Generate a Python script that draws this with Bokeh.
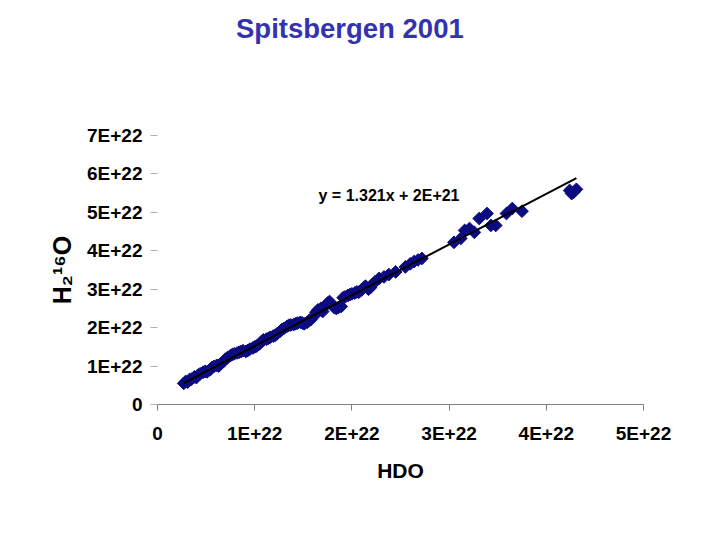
import numpy as np
from bokeh.plotting import figure
from bokeh.models import Range1d, FixedTicker, Label, Div
from bokeh.layouts import column
from bokeh.embed import file_html
from bokeh.resources import INLINE

# ---- data (units of 1E+22 molecules) ----
hdo_e22 = [0.27, 0.29, 0.31, 0.33, 0.35, 0.38, 0.40, 0.42, 0.44, 0.47,
           0.49, 0.51, 0.54, 0.56, 0.58, 0.61, 0.63, 0.65, 0.68, 0.70,
           0.72, 0.75, 0.77, 0.79, 0.82, 0.84, 0.86, 0.88, 0.91, 0.93,
           0.95, 0.98, 1.00, 1.02, 1.05, 1.07, 1.09, 1.12, 1.14, 1.16,
           1.19, 1.21, 1.23, 1.26, 1.28, 1.30, 1.33, 1.35, 1.37, 1.40,
           1.42, 1.44, 1.47, 1.49, 1.51, 1.54, 1.56, 1.58, 1.61, 1.63,
           1.65, 1.68, 1.70, 1.72, 1.75, 1.77, 1.79, 1.82, 1.84, 1.86,
           1.89, 1.91, 1.93, 1.96, 1.98, 2.00, 2.03, 2.05, 2.07, 2.10,
           2.12, 2.14, 2.17, 2.19, 2.21, 2.24, 2.28, 2.33, 2.38, 2.45,
           2.55, 2.60, 2.64, 2.68, 2.72,
           3.05, 3.12, 3.16, 3.21, 3.26, 3.31, 3.39, 3.43, 3.48, 3.59,
           3.65, 3.75, 4.24, 4.26, 4.28, 4.31]
h2o_e22 = [0.55, 0.60, 0.58, 0.65, 0.66, 0.72, 0.70, 0.77, 0.80, 0.84,
           0.86, 0.85, 0.90, 0.96, 0.99, 1.02, 1.00, 1.06, 1.12, 1.18,
           1.22, 1.27, 1.30, 1.32, 1.34, 1.36, 1.38, 1.40, 1.38, 1.41,
           1.44, 1.47, 1.50, 1.52, 1.58, 1.64, 1.68, 1.70, 1.72, 1.75,
           1.78, 1.80, 1.84, 1.90, 1.95, 1.98, 2.03, 2.06, 2.07, 2.08,
           2.10, 2.12, 2.14, 2.12, 2.10, 2.14, 2.18, 2.22, 2.30, 2.40,
           2.46, 2.50, 2.42, 2.55, 2.64, 2.68, 2.62, 2.52, 2.50, 2.52,
           2.55, 2.78, 2.80, 2.84, 2.86, 2.88, 2.90, 2.93, 2.92, 2.98,
           3.04, 3.08, 3.00, 3.04, 3.12, 3.20, 3.28, 3.32, 3.38, 3.45,
           3.58, 3.66, 3.72, 3.76, 3.80,
           4.22, 4.32, 4.53, 4.58, 4.48, 4.84, 4.97, 4.66, 4.66, 4.97,
           5.10, 5.03, 5.57, 5.49, 5.52, 5.60]

fit_slope = 1.321
fit_intercept_e22 = 0.2   # 2E+21
equation_text = "y = 1.321x + 2E+21"
title_text = "Spitsbergen 2001"
x_title = "HDO"
y_title = "H\u2082\u00b9\u2076O"

x_ticks = [0, 1, 2, 3, 4, 5]
x_tick_labels = ["0", "1E+22", "2E+22", "3E+22", "4E+22", "5E+22"]
y_ticks = [0, 1, 2, 3, 4, 5, 6, 7]
y_tick_labels = ["0", "1E+22", "2E+22", "3E+22", "4E+22", "5E+22", "6E+22", "7E+22"]

FONT = "Liberation Sans"
HEAD_H = 60

title_div = Div(
    text=('<div style="position:relative; left:236px; top:15px; white-space:nowrap; '
          'font-family:\'Liberation Sans\'; font-weight:bold; font-size:27.5px; '
          'line-height:1; color:#3333b0;">' + title_text + '</div>'),
    width=704, height=HEAD_H, margin=(0, 0, 0, 0))

FRAME_L, FRAME_B = 157, 404

p = figure(width=704, height=524 - HEAD_H, output_backend="svg", toolbar_location=None,
           x_range=Range1d(0, 5), y_range=Range1d(0, 7),
           min_border_left=157, min_border_right=61,
           min_border_top=135 - HEAD_H, min_border_bottom=120,
           margin=(0, 0, 0, 0))
p.background_fill_color = "white"
p.border_fill_color = "white"
p.outline_line_color = None
p.grid.visible = False

# axes
xa = p.xaxis[0]
xa.ticker = FixedTicker(ticks=x_ticks)
xa.major_label_overrides = {t: l for t, l in zip(x_ticks, x_tick_labels)}
xa.axis_line_color = "#808080"
xa.major_tick_line_color = "#808080"
xa.major_tick_in = 0
xa.major_tick_out = 6
xa.minor_tick_line_color = None
xa.major_label_text_font = FONT
xa.major_label_text_font_style = "bold"
xa.major_label_text_font_size = "19px"
xa.major_label_text_color = "black"
xa.major_label_standoff = 12
xa.axis_label = x_title
xa.axis_label_text_font = FONT
xa.axis_label_text_font_style = "bold"
xa.axis_label_text_font_size = "21px"
xa.axis_label_text_color = "black"
xa.axis_label_standoff = 12

ya = p.yaxis[0]
ya.ticker = FixedTicker(ticks=y_ticks)
ya.major_label_overrides = {t: l for t, l in zip(y_ticks, y_tick_labels)}
ya.axis_line_color = None
ya.major_tick_line_color = "#b0b0b0"
ya.major_tick_in = 0
ya.major_tick_out = 7
ya.minor_tick_line_color = None
ya.major_label_text_font = FONT
ya.major_label_text_font_style = "bold"
ya.major_label_text_font_size = "19px"
ya.major_label_text_color = "black"
ya.major_label_standoff = 8
ya.axis_label = y_title
ya.axis_label_text_font = FONT
ya.axis_label_text_font_style = "bold"
ya.axis_label_text_font_size = "25px"
ya.axis_label_text_color = "black"
ya.axis_label_standoff = 8

# points
p.scatter(hdo_e22, h2o_e22, marker="square", angle=np.pi / 4, size=9,
          fill_color="#0c0c80", line_color="#0c0c80")

# trendline
x_fit = np.array([min(hdo_e22), max(hdo_e22)])
p.line(x_fit, fit_slope * x_fit + fit_intercept_e22, line_color="black", line_width=2)

# equation (frame-relative screen units)
p.add_layout(Label(x=318 - FRAME_L, y=FRAME_B - 195, x_units="screen", y_units="screen",
                   text=equation_text, text_font=FONT, text_font_style="bold",
                   text_font_size="16px", text_align="left", text_baseline="alphabetic",
                   text_color="black"))

layout = column(title_div, p, spacing=0)
open("out.html", "w").write(file_html(layout, INLINE))
